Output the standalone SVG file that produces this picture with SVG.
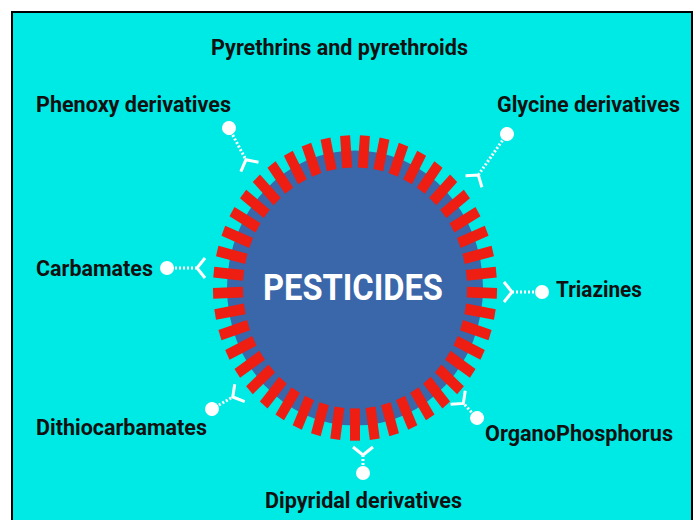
<svg xmlns="http://www.w3.org/2000/svg" xmlns:xlink="http://www.w3.org/1999/xlink" width="696" height="520" viewBox="0 0 696 520">
<style>
.lbl{font-family:Roboto,"Liberation Sans",sans-serif;font-weight:bold;font-size:22px;fill:#111;}
.title{font-family:Roboto,"Liberation Sans",sans-serif;font-weight:bold;font-size:37px;fill:#fff;}
.dot{stroke:#fff;stroke-width:3;stroke-dasharray:2 2;fill:none;}
.arm{stroke:#fff;stroke-width:3;fill:none;stroke-linejoin:miter;}
.end{fill:#fff;}
</style>
<defs>
<rect id="t" x="-5" y="-142" width="10" height="30" fill="#EE1E12"/>
</defs>
<rect x="0" y="0" width="696" height="520" fill="#fff"/>
<rect x="12" y="12" width="680" height="520" fill="#00EAE5" stroke="#000" stroke-width="2"/>

<g id="pesticides">
<g transform="translate(355,288) scale(1,1.075)">
<circle cx="0" cy="0" r="128" fill="#3A66AA"/>
<use href="#t" transform="rotate(4)"/><use href="#t" transform="rotate(12)"/><use href="#t" transform="rotate(20)"/><use href="#t" transform="rotate(28)"/><use href="#t" transform="rotate(36)"/><use href="#t" transform="rotate(44)"/><use href="#t" transform="rotate(52)"/><use href="#t" transform="rotate(60)"/><use href="#t" transform="rotate(68)"/><use href="#t" transform="rotate(76)"/><use href="#t" transform="rotate(84)"/><use href="#t" transform="rotate(92)"/><use href="#t" transform="rotate(100)"/><use href="#t" transform="rotate(108)"/><use href="#t" transform="rotate(116)"/><use href="#t" transform="rotate(124)"/><use href="#t" transform="rotate(132)"/><use href="#t" transform="rotate(140)"/><use href="#t" transform="rotate(148)"/><use href="#t" transform="rotate(156)"/><use href="#t" transform="rotate(164)"/><use href="#t" transform="rotate(172)"/><use href="#t" transform="rotate(180)"/><use href="#t" transform="rotate(188)"/><use href="#t" transform="rotate(196)"/><use href="#t" transform="rotate(204)"/><use href="#t" transform="rotate(212)"/><use href="#t" transform="rotate(220)"/><use href="#t" transform="rotate(228)"/><use href="#t" transform="rotate(236)"/><use href="#t" transform="rotate(244)"/><use href="#t" transform="rotate(252)"/><use href="#t" transform="rotate(260)"/><use href="#t" transform="rotate(268)"/><use href="#t" transform="rotate(276)"/><use href="#t" transform="rotate(284)"/><use href="#t" transform="rotate(292)"/><use href="#t" transform="rotate(300)"/><use href="#t" transform="rotate(308)"/><use href="#t" transform="rotate(316)"/><use href="#t" transform="rotate(324)"/><use href="#t" transform="rotate(332)"/><use href="#t" transform="rotate(340)"/><use href="#t" transform="rotate(348)"/><use href="#t" transform="rotate(356)"/>
</g>
<text class="title" x="353" y="300" text-anchor="middle" textLength="180" lengthAdjust="spacingAndGlyphs">PESTICIDES</text>
</g>

<g id="connectors">
<g transform="translate(229,128) rotate(62)"><circle class="end" r="7"/><line class="dot" x1="8" y1="0" x2="35" y2="0"/><polyline class="arm" points="44,-10 36,0 44,10"/></g>
<g transform="translate(507,134) rotate(125)"><circle class="end" r="7"/><line class="dot" x1="8" y1="0" x2="49" y2="0"/><polyline class="arm" points="58,-10 50,0 58,10"/></g>
<g transform="translate(167,268) rotate(0)"><circle class="end" r="7"/><line class="dot" x1="8" y1="0" x2="29" y2="0"/><polyline class="arm" points="38,-10 30,0 38,10"/></g>
<g transform="translate(542,292) rotate(180)"><circle class="end" r="7"/><line class="dot" x1="8" y1="0" x2="29" y2="0"/><polyline class="arm" points="38,-10 30,0 38,10"/></g>
<g transform="translate(212,409) rotate(-30)"><circle class="end" r="7"/><line class="dot" x1="8" y1="0" x2="23" y2="0"/><polyline class="arm" points="32,-10 24,0 32,10"/></g>
<g transform="translate(477,418) rotate(-133)"><circle class="end" r="7"/><line class="dot" x1="8" y1="0" x2="19" y2="0"/><polyline class="arm" points="28,-10 20,0 28,10"/></g>
<g transform="translate(363,473) rotate(-90)"><circle class="end" r="7"/><line class="dot" x1="8" y1="0" x2="17" y2="0"/><polyline class="arm" points="26,-10 18,0 26,10"/></g>
</g>

<g id="n-pyrethrins"><text class="lbl" x="211" y="55" textLength="257" lengthAdjust="spacingAndGlyphs">Pyrethrins and pyrethroids</text></g>
<g id="n-phenoxy"><text class="lbl" x="36" y="112" textLength="195" lengthAdjust="spacingAndGlyphs">Phenoxy derivatives</text></g>
<g id="n-glycine"><text class="lbl" x="497" y="112" textLength="183" lengthAdjust="spacingAndGlyphs">Glycine derivatives</text></g>
<g id="n-carbamates"><text class="lbl" x="36" y="276" textLength="117" lengthAdjust="spacingAndGlyphs">Carbamates</text></g>
<g id="n-triazines"><text class="lbl" x="556" y="297" textLength="86" lengthAdjust="spacingAndGlyphs">Triazines</text></g>
<g id="n-dithio"><text class="lbl" x="36" y="435" textLength="171" lengthAdjust="spacingAndGlyphs">Dithiocarbamates</text></g>
<g id="n-organo"><text class="lbl" x="485" y="441" textLength="188" lengthAdjust="spacingAndGlyphs">OrganoPhosphorus</text></g>
<g id="n-dipyridal"><text class="lbl" x="265" y="508" textLength="197" lengthAdjust="spacingAndGlyphs">Dipyridal derivatives</text></g>
</svg>
